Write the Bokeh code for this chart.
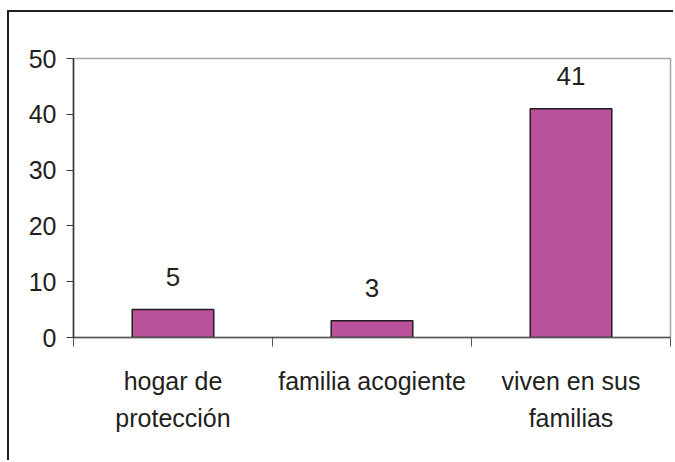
from bokeh.plotting import figure
from bokeh.models import FixedTicker, Range1d, ColumnDataSource
from bokeh.core.properties import value
from bokeh.embed import file_html
from bokeh.resources import INLINE

categories = ["hogar de\nprotección", "familia acogiente", "viven en sus\nfamilias"]
counts = [5, 3, 41]
y_ticks = [0, 10, 20, 30, 40, 50]

FONT = "Liberation Sans"
TXT = "#231f20"
positions = [i + 0.5 for i in range(len(categories))]

src = ColumnDataSource(dict(x=positions, top=counts, label=[str(c) for c in counts]))

p = figure(width=666, height=450, output_backend="svg", toolbar_location=None,
           x_range=Range1d(0, 3), y_range=Range1d(0, 50),
           min_border_left=64, min_border_right=5, min_border_top=46, min_border_bottom=125)
p.styles = {"margin-left": "7px", "margin-top": "10px",
            "border-top": "2px solid #231f20", "border-left": "2px solid #231f20"}

p.vbar(x="x", top="top", width=0.41, bottom=0, source=src,
       fill_color="#b9519b", line_color="#231f20", line_width=1.5)
p.text(x="x", y="top", text="label", source=src, text_align="center",
       text_baseline="alphabetic", y_offset=-33, text_font=value(FONT),
       text_font_size="26px", text_color=TXT)

p.xgrid.visible = False
p.ygrid.visible = False
p.outline_line_color = "#a6a6a6"
p.outline_line_width = 1.5
p.background_fill_color = "white"
p.border_fill_color = "white"

xa = p.xaxis[0]
xa.ticker = FixedTicker(ticks=positions, minor_ticks=[0, 1, 2, 3])
xa.major_label_overrides = {pos: lab for pos, lab in zip(positions, categories)}
xa.major_tick_out = 0
xa.major_tick_in = 0
xa.minor_tick_out = 9
xa.minor_tick_in = 0
xa.minor_tick_line_color = "#555555"
xa.axis_line_color = "#555555"
xa.axis_line_width = 1.5
xa.major_label_text_font = FONT
xa.major_label_text_font_size = "25px"
xa.major_label_text_color = TXT
xa.major_label_text_line_height = 1.35
xa.major_label_standoff = 20

ya = p.yaxis[0]
ya.ticker = FixedTicker(ticks=y_ticks)
ya.minor_tick_out = 0
ya.minor_tick_in = 0
ya.major_tick_out = 7
ya.major_tick_in = 0
ya.major_tick_line_color = "#333333"
ya.axis_line_color = "#333333"
ya.axis_line_width = 1.5
ya.major_label_text_font = FONT
ya.major_label_text_font_size = "25px"
ya.major_label_text_color = TXT
ya.major_label_standoff = 10

open("out.html", "w").write(file_html(p, INLINE))
